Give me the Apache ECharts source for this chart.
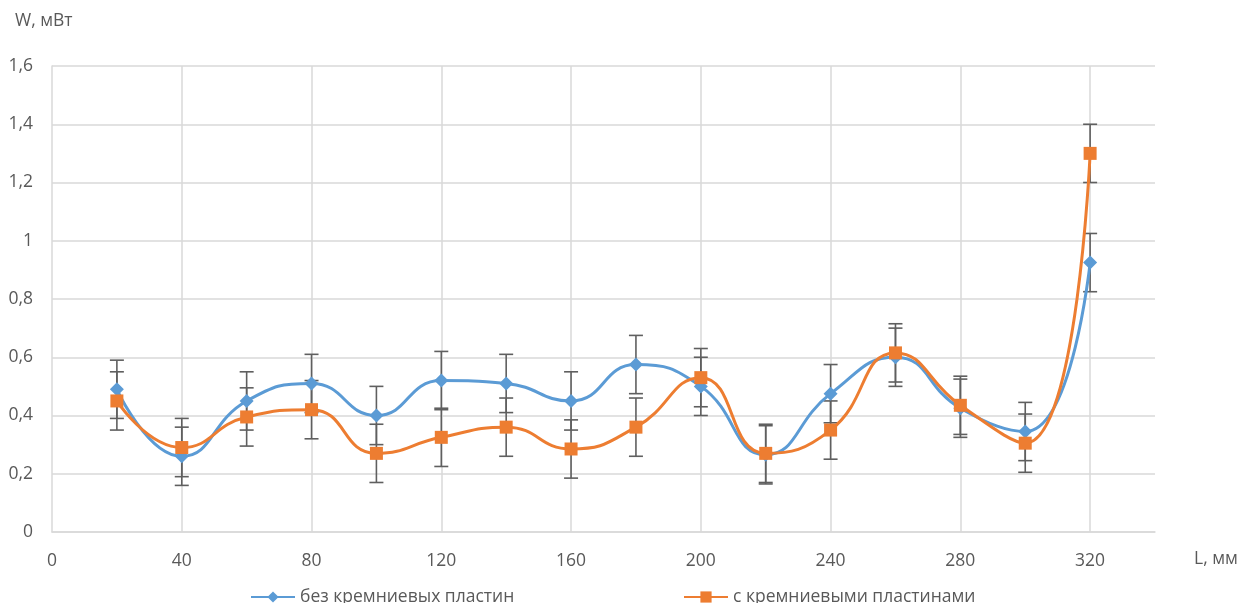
<!DOCTYPE html>
<html>
<head>
<meta charset="utf-8">
<script src="https://cdn.jsdelivr.net/npm/echarts@6/dist/echarts.min.js"></script>
<style>
  html, body { margin: 0; padding: 0; background: #fff; }
  #chart { width: 1241px; height: 603px; }
</style>
</head>
<body>
<div id="chart"></div>
<script>
// Distance along the sample, mm
const distances = [20, 40, 60, 80, 100, 120, 140, 160, 180, 200, 220, 240, 260, 280, 300, 320];
// Power, mW
const withoutPlates = [0.49, 0.26, 0.45, 0.51, 0.40, 0.52, 0.51, 0.45, 0.575, 0.50, 0.265, 0.475, 0.60, 0.425, 0.345, 0.925];
const withPlates    = [0.45, 0.29, 0.395, 0.42, 0.27, 0.325, 0.36, 0.285, 0.36, 0.53, 0.27, 0.35, 0.615, 0.435, 0.305, 1.30];
// Measurement error, mW
const errWithout = [0.1, 0.1, 0.1, 0.1, 0.1, 0.1, 0.1, 0.1, 0.1, 0.1, 0.1, 0.1, 0.1, 0.1, 0.1, 0.1];
const errWith    = [0.1, 0.1, 0.1, 0.1, 0.1, 0.1, 0.1, 0.1, 0.1, 0.1, 0.1, 0.1, 0.1, 0.1, 0.1, 0.1];

const seriesNames = ['без кремниевых пластин', 'с кремниевыми пластинами'];
const colors = ['#5b9bd5', '#ed7d31'];
const textColor = '#595959';
const gridColor = '#d9d9d9';
const font = 'Open Sans';
const fontSize = 17.5;

const pairs = (ys) => distances.map((x, i) => [x, ys[i]]);
const errData = (ys, es) => distances.map((x, i) => [x, ys[i] - es[i], ys[i] + es[i]]);

function renderErrorBar(params, api) {
  const x = api.value(0);
  const lo = api.coord([x, api.value(1)]);
  const hi = api.coord([x, api.value(2)]);
  const cap = 7;
  const style = { stroke: '#5f5f5f', lineWidth: 1.6, fill: null };
  return {
    type: 'group',
    children: [
      { type: 'line', shape: { x1: lo[0], y1: lo[1], x2: hi[0], y2: hi[1] }, style },
      { type: 'line', shape: { x1: lo[0] - cap, y1: lo[1], x2: lo[0] + cap, y2: lo[1] }, style },
      { type: 'line', shape: { x1: hi[0] - cap, y1: hi[1], x2: hi[0] + cap, y2: hi[1] }, style }
    ]
  };
}

const legendBase = {
  top: 583,
  itemWidth: 44,
  itemHeight: 14,
  itemGap: 5,
  textStyle: { fontFamily: font, fontSize: fontSize, color: textColor }
};

const chart = echarts.init(document.getElementById('chart'), null, { renderer: 'canvas' });
chart.setOption({
  animation: false,
  backgroundColor: '#ffffff',
  textStyle: { fontFamily: font, color: textColor },
  grid: { left: 52, right: 86, top: 66, bottom: 71, containLabel: false },
  title: [
    { text: 'W, мВт', left: 15, top: 12, padding: 0, textStyle: { fontFamily: font, fontSize: fontSize, fontWeight: 'normal', color: textColor } },
    { text: 'L, мм', left: 1194, top: 550, padding: 0, textStyle: { fontFamily: font, fontSize: fontSize, fontWeight: 'normal', color: textColor } }
  ],
  legend: [
    Object.assign({ left: 245, data: [seriesNames[0]] }, legendBase),
    Object.assign({ left: 678, data: [seriesNames[1]] }, legendBase)
  ],
  xAxis: {
    type: 'value',
    min: 0,
    max: 340,
    interval: 40,
    axisLine: { show: true, lineStyle: { color: gridColor, width: 1.5 } },
    axisTick: { show: false },
    axisLabel: {
      margin: 20,
      fontSize: fontSize,
      color: textColor,
      fontFamily: font,
      formatter: (v) => (v > 320 ? '' : String(v))
    },
    splitLine: { show: true, showMaxLine: false, showMinLine: false, lineStyle: { color: gridColor, width: 1.5 } }
  },
  yAxis: {
    type: 'value',
    min: 0,
    max: 1.6,
    interval: 0.2,
    axisLine: { show: true, lineStyle: { color: gridColor, width: 1.5 } },
    axisTick: { show: false },
    axisLabel: {
      margin: 19,
      fontSize: fontSize,
      color: textColor,
      fontFamily: font,
      formatter: (v) => String(+v.toFixed(1)).replace('.', ',')
    },
    splitLine: { show: true, lineStyle: { color: gridColor, width: 1.5 } }
  },
  series: [
    {
      name: seriesNames[0] + ' погрешность',
      type: 'custom',
      renderItem: renderErrorBar,
      data: errData(withoutPlates, errWithout),
      encode: { x: 0, y: [1, 2] },
      z: 3,
      silent: true
    },
    {
      name: seriesNames[1] + ' погрешность',
      type: 'custom',
      renderItem: renderErrorBar,
      data: errData(withPlates, errWith),
      encode: { x: 0, y: [1, 2] },
      z: 3,
      silent: true
    },
    {
      name: seriesNames[0],
      type: 'line',
      data: pairs(withoutPlates),
      smooth: 0.5,
      symbol: 'diamond',
      symbolSize: 14,
      itemStyle: { color: colors[0] },
      lineStyle: { color: colors[0], width: 3 },
      z: 4
    },
    {
      name: seriesNames[1],
      type: 'line',
      data: pairs(withPlates),
      smooth: 0.5,
      symbol: 'rect',
      symbolSize: 13,
      itemStyle: { color: colors[1] },
      lineStyle: { color: colors[1], width: 3 },
      z: 5
    }
  ]
});
</script>
</body>
</html>
